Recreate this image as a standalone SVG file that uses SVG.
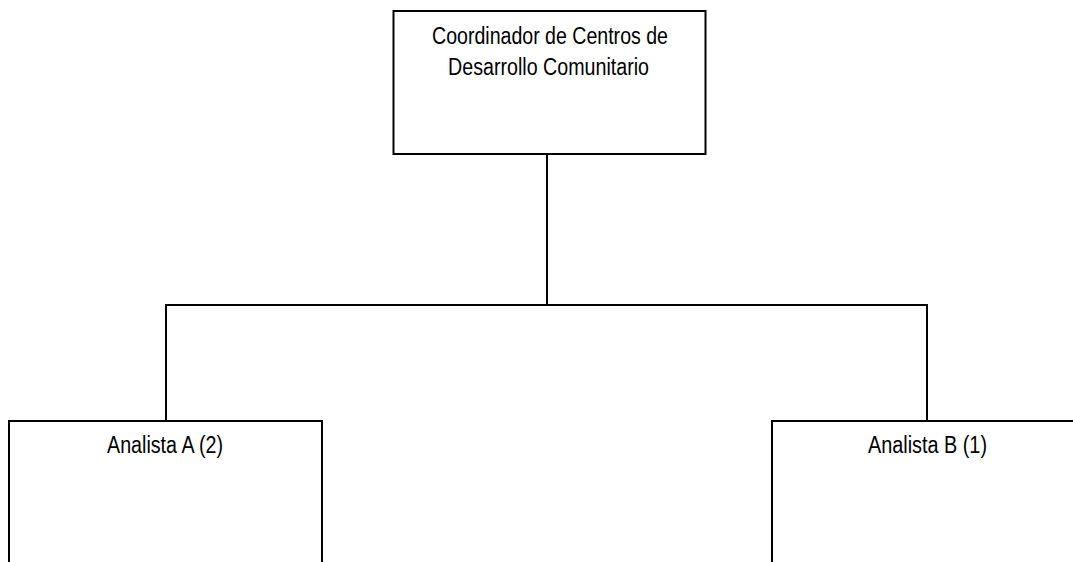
<svg xmlns="http://www.w3.org/2000/svg" width="1073" height="562" viewBox="0 0 1073 562">
<style>
.box{fill:#fff;stroke:#000;stroke-width:2}
.conn{fill:none;stroke:#000;stroke-width:2}
.lbl{font-family:"Liberation Sans",Arial,sans-serif;font-size:23px;fill:#000;text-anchor:middle}
</style>
<rect width="1073" height="562" fill="#fff"/>
<g id="connectors">
<polyline class="conn" points="547,154 547,305"/>
<polyline class="conn" points="166,421 166,305 927,305 927,421"/>
</g>
<g id="node-coordinador">
<rect class="box" x="393.5" y="11" width="312" height="143"/>
<text class="lbl" x="550" y="43.5" textLength="236" lengthAdjust="spacingAndGlyphs">Coordinador de Centros de</text>
<text class="lbl" x="548.5" y="75" textLength="201" lengthAdjust="spacingAndGlyphs">Desarrollo Comunitario</text>
</g>
<g id="node-analista-a">
<rect class="box" x="9" y="421" width="313" height="160"/>
<text class="lbl" x="165" y="453" textLength="116" lengthAdjust="spacingAndGlyphs">Analista A (2)</text>
</g>
<g id="node-analista-b">
<rect class="box" x="772" y="421" width="313" height="160"/>
<text class="lbl" x="927.5" y="453" textLength="119" lengthAdjust="spacingAndGlyphs">Analista B (1)</text>
</g>
</svg>
